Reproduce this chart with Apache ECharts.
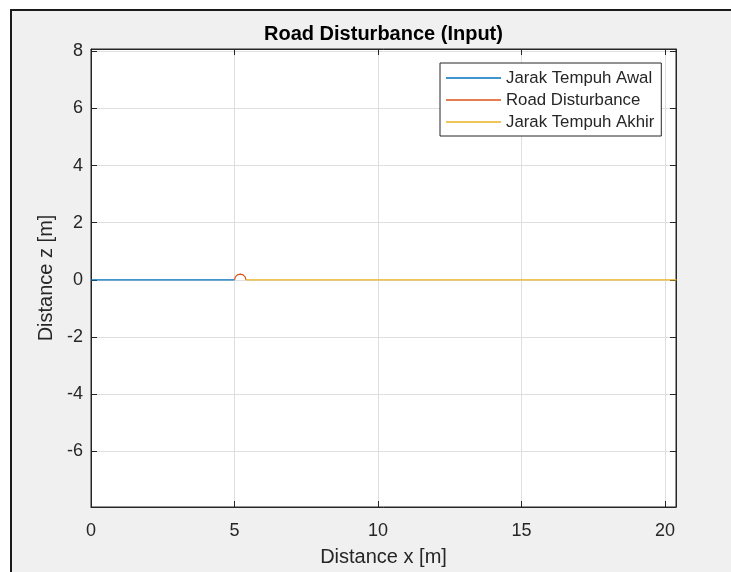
<!DOCTYPE html>
<html>
<head>
<meta charset="utf-8">
<script src="https://cdn.jsdelivr.net/npm/echarts@6/dist/echarts.min.js"></script>
<style>
html,body{margin:0;padding:0;background:#ffffff;}
#frame{position:absolute;left:10px;top:9px;right:0;bottom:0;background:#f0f0f0;border-left:2px solid #1a1a1a;border-top:2px solid #1a1a1a;}
#chart{position:absolute;left:0;top:0;width:731px;height:572px;}
</style>
</head>
<body>
<div id="frame"></div>
<div id="chart"></div>
<script>
// ---- data ----
const titleText = 'Road Disturbance (Input)';
const xLabel = 'Distance x [m]';
const yLabel = 'Distance z [m]';
const seriesNames = ['Jarak Tempuh Awal', 'Road Disturbance', 'Jarak Tempuh Akhir'];
const xTicks = [0, 5, 10, 15, 20];
const yTicks = [-6, -4, -2, 0, 2, 4, 6, 8];
const xRange = [0, 20.38];
const yRange = [-7.95, 8.08];
const awalX = [0, 5.0];
const awalZ = [0, 0];
const roadX = [5.0, 5.01, 5.03, 5.06, 5.1, 5.15, 5.2, 5.25, 5.3, 5.34, 5.37, 5.39, 5.4];
const roadZ = [0, 0.062, 0.105, 0.143, 0.173, 0.194, 0.2, 0.194, 0.173, 0.143, 0.105, 0.062, 0];
const akhirX = [5.4, 20.4];
const akhirZ = [0, 0];

const pairs = (xs, ys) => xs.map((x, i) => [x, ys[i]]);
const FONT = '"Liberation Sans", Arial, Helvetica, sans-serif';
const TXT = '#262626';
const colors = ['#0072BD', '#D95319', '#EDB120'];

const chart = echarts.init(document.getElementById('chart'), null, {renderer: 'canvas'});
const tickFmt = v => String(v);

const option = {
  backgroundColor: 'transparent',
  animation: false,
  color: colors,
  textStyle: {fontFamily: FONT},
  title: {
    text: titleText, left: 383.5, top: 24, textAlign: 'center', padding: 0,
    textStyle: {fontFamily: FONT, fontSize: 20, fontWeight: 'bold', color: '#000000'}
  },
  legend: {
    orient: 'vertical', left: 440, top: 63,
    padding: [6, 7, 5, 6],
    backgroundColor: '#ffffff', borderColor: TXT, borderWidth: 1, borderRadius: 0,
    itemWidth: 55, itemHeight: 1.5, itemGap: 4, itemTextGap: 5,
    icon: 'rect',
    textStyle: {fontFamily: FONT, fontSize: 16.8, color: TXT, lineHeight: 18},
    data: seriesNames
  },
  grid: {
    left: 91, top: 49, width: 585, height: 463,
    show: true, backgroundColor: '#ffffff', borderColor: TXT, borderWidth: 1
  },
  xAxis: [{
    type: 'value', position: 'bottom', min: xRange[0], max: xRange[1],
    name: xLabel, nameLocation: 'middle', nameGap: 40,
    nameTextStyle: {fontFamily: FONT, fontSize: 20, color: TXT},
    axisLine: {show: true, onZero: false, lineStyle: {color: TXT, width: 1}},
    axisTick: {show: true, inside: true, length: 6, customValues: xTicks, lineStyle: {color: TXT}},
    axisLabel: {show: true, customValues: xTicks, margin: 15, fontFamily: FONT, fontSize: 18, color: TXT, formatter: tickFmt},
    splitLine: {show: true, lineStyle: {color: '#dfdfdf', width: 1}}
  }, {
    type: 'value', position: 'top', min: xRange[0], max: xRange[1],
    axisLine: {show: true, onZero: false, lineStyle: {color: TXT, width: 1}},
    axisTick: {show: true, inside: true, length: 6, customValues: xTicks, lineStyle: {color: TXT}},
    axisLabel: {show: false},
    splitLine: {show: false}
  }],
  yAxis: [{
    type: 'value', position: 'left', min: yRange[0], max: yRange[1],
    name: yLabel, nameLocation: 'middle', nameGap: 31,
    nameTextStyle: {fontFamily: FONT, fontSize: 20, color: TXT},
    axisLine: {show: true, onZero: false, lineStyle: {color: TXT, width: 1}},
    axisTick: {show: true, inside: true, length: 6, customValues: yTicks, lineStyle: {color: TXT}},
    axisLabel: {show: true, customValues: yTicks, margin: 8, fontFamily: FONT, fontSize: 18, color: TXT, formatter: tickFmt},
    splitLine: {show: true, lineStyle: {color: '#dfdfdf', width: 1}}
  }, {
    type: 'value', position: 'right', min: yRange[0], max: yRange[1],
    axisLine: {show: true, onZero: false, lineStyle: {color: TXT, width: 1}},
    axisTick: {show: true, inside: true, length: 6, customValues: yTicks, lineStyle: {color: TXT}},
    axisLabel: {show: false},
    splitLine: {show: false}
  }],
  series: [
    {name: seriesNames[0], type: 'line', xAxisIndex: 0, yAxisIndex: 0, showSymbol: false, symbol: 'none',
     lineStyle: {width: 1.2, color: colors[0]}, itemStyle: {color: colors[0]}, data: pairs(awalX, awalZ), clip: true},
    {name: seriesNames[1], type: 'line', xAxisIndex: 0, yAxisIndex: 0, showSymbol: false, symbol: 'none', smooth: false,
     lineStyle: {width: 1.2, color: colors[1]}, itemStyle: {color: colors[1]}, data: pairs(roadX, roadZ), clip: true},
    {name: seriesNames[2], type: 'line', xAxisIndex: 0, yAxisIndex: 0, showSymbol: false, symbol: 'none',
     lineStyle: {width: 1.2, color: colors[2]}, itemStyle: {color: colors[2]}, data: pairs(akhirX, akhirZ), clip: true}
  ]
};
chart.setOption(option);
</script>
</body>
</html>
